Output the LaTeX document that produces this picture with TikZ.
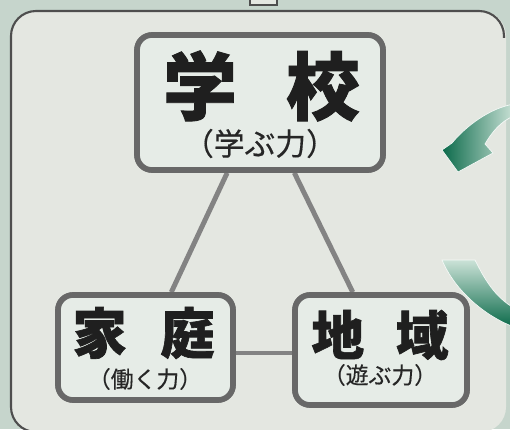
\documentclass[tikz,border=0pt]{standalone}
\usepackage{fontspec}
\newfontfamily\cjk{Noto Sans CJK JP}[BoldFeatures={FakeBold=1.2}]
\newfontfamily\cjksub{Noto Sans CJK JP}[FakeBold=0.4]
\definecolor{outbg}{HTML}{C6D5CC}
\definecolor{paper}{HTML}{E4E7E1}
\definecolor{boxfill}{HTML}{E6ECE7}
\definecolor{boxline}{HTML}{686868}
\definecolor{linkc}{HTML}{838383}
\definecolor{framec}{HTML}{4E4E4E}
\definecolor{gdark}{HTML}{0B6A4A}
\definecolor{glight}{HTML}{CBE2D7}
\begin{document}
\begin{tikzpicture}[x=0.02cm,y=-0.02cm,
  box/.style={draw=boxline, line width=3.2pt, fill=boxfill, rounded corners=0.3cm, inner sep=0pt, rectangle},
  link/.style={draw=linkc, line width=2.8pt},
  bigtxt/.style={inner sep=0pt, text=black!88},
  subtxt/.style={inner sep=0pt, text=black!85},
  garrow/.style={draw=white!80!glight, line width=0.4pt}]
\useasboundingbox (0,0) rectangle (510,429);
\clip (0,0) rectangle (510,429);
\fill[outbg] (0,0) rectangle (510,429);
% outer frame
\fill[paper, rounded corners=0.5cm] (11,11) rectangle (506,432);
\draw[framec, line width=1.2pt, rounded corners=0.5cm] (36,432) -- (11,432) -- (11,11) -- (504,11) -- (504,38);
% tab
\draw[framec, line width=0.8pt, fill=paper] (250,-2) -- (250,5) -- (277,5) -- (277,-2);
% boxes
\node[box, minimum width=4.92cm, minimum height=2.7cm] (school) at (260,102.5) {};
\node[box, minimum width=3.5cm, minimum height=2.1cm] (home) at (145.5,347.5) {};
\node[box, minimum width=3.44cm, minimum height=2.2cm] (region) at (381,350) {};
% connectors
\path (home.east) ++(0,5.5) coordinate (h1);
\draw[link] (school) -- (home);
\draw[link] (school) -- (region);
\draw[link] (h1) -- (h1 -| region.west);
% redraw boxes on top
\node[box, minimum width=4.92cm, minimum height=2.7cm] at (school) {};
\node[box, minimum width=3.5cm, minimum height=2.1cm] at (home) {};
\node[box, minimum width=3.44cm, minimum height=2.2cm] at (region) {};
% texts
\node[bigtxt] (schoolT) at (261.5,86) {\cjk\bfseries\fontsize{42pt}{44pt}\selectfont 学\hspace{28pt}校};
\node[subtxt] (schoolS) at (260,143.5) {\cjksub\fontsize{17.5pt}{19pt}\selectfont （学ぶ力）};
\node[bigtxt] (homeT) at (143.5,333) {\cjk\bfseries\fontsize{31pt}{33pt}\selectfont 家\hspace{19pt}庭};
\node[subtxt] (homeS) at (145,379) {\cjksub\fontsize{13pt}{15pt}\selectfont （働く力）};
\node[bigtxt] (regionT) at (380,335) {\cjk\bfseries\fontsize{30pt}{32pt}\selectfont 地\hspace{18pt}域};
\node[subtxt] (regionS) at (380,375) {\cjksub\fontsize{13pt}{15pt}\selectfont （遊ぶ力）};
% green arrows
\shade[garrow, left color=gdark, right color=glight]
  (514,104) .. controls (490,108) and (466,126) .. (452,143)
  -- (442,150) -- (458,172) -- (493,153) -- (485,144)
  .. controls (492,132) and (501,121) .. (514,116) -- cycle;
\shade[garrow, top color=glight, bottom color=gdark]
  (442,260) -- (475,260)
  .. controls (485,280) and (495,297) .. (514,308)
  -- (514,327)
  .. controls (485,316) and (455,291) .. (442,260) -- cycle;
\end{tikzpicture}
\end{document}
